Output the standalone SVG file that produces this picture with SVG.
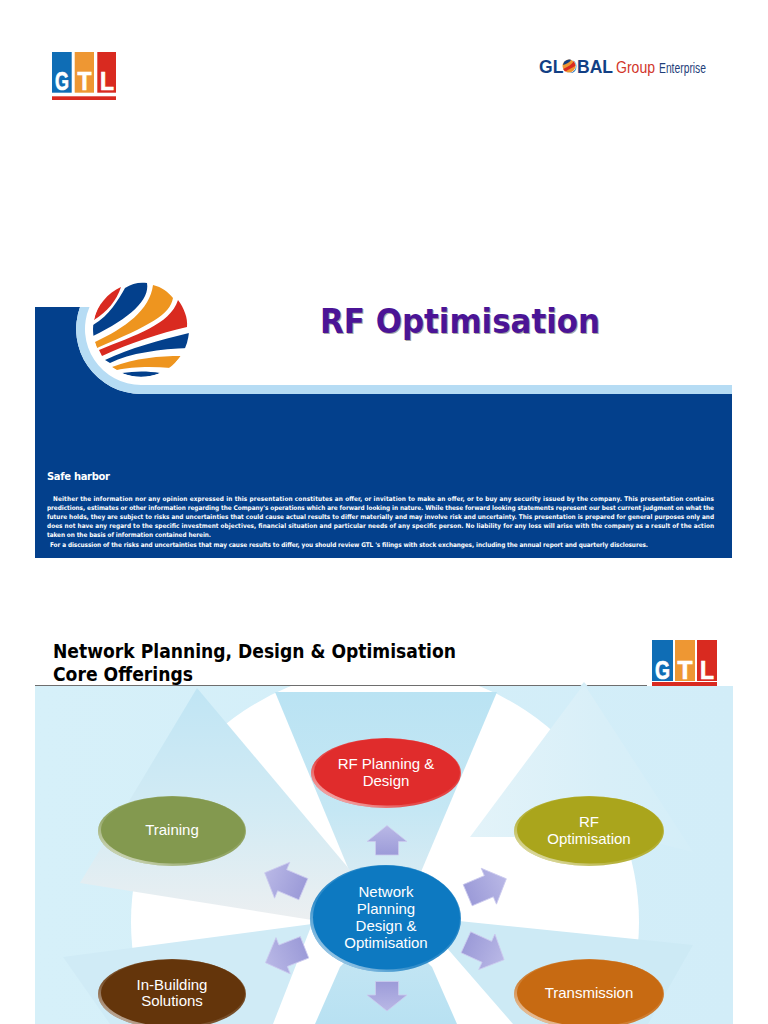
<svg xmlns="http://www.w3.org/2000/svg" width="768" height="1024" viewBox="0 0 768 1024">
<style>
.body{font-family:"DejaVu Sans Condensed","DejaVu Sans",sans-serif;font-weight:700;font-size:6.4px;fill:#fff}
.head{font-family:"DejaVu Sans Condensed","DejaVu Sans",sans-serif;font-weight:700;fill:#000;font-size:19px}
.lab{font-family:"Liberation Sans",Arial,sans-serif;font-size:15px;fill:#fff;text-anchor:middle}
.logo{font-family:"Liberation Sans",Arial,sans-serif;font-weight:700;fill:#fff;stroke:#fff;stroke-width:0.7px}
.rim{fill:url(#rim)}
</style>
<defs>
<clipPath id="panel"><rect x="35" y="686" width="698" height="338"/></clipPath>
<clipPath id="globeClip"><circle cx="141" cy="329" r="48"/></clipPath>
<linearGradient id="wedgeTop" x1="0" y1="0" x2="0" y2="1"><stop offset="0" stop-color="#bae3f3"/><stop offset="0.45" stop-color="#c5e7f4"/><stop offset="1" stop-color="#eef0f2"/></linearGradient>
<linearGradient id="wedgeTL" x1="0" y1="0" x2="0" y2="1"><stop offset="0" stop-color="#c0e5f4"/><stop offset="0.55" stop-color="#d3ebf4"/><stop offset="1" stop-color="#eceff1"/></linearGradient>
<linearGradient id="wedgeTR" x1="0" y1="0" x2="1" y2="0"><stop offset="0" stop-color="#e3f3f9"/><stop offset="0.6" stop-color="#d8eff8"/><stop offset="1" stop-color="#d4eef8"/></linearGradient>
<linearGradient id="wedgeB" x1="0" y1="0" x2="0" y2="1"><stop offset="0" stop-color="#e8f0f3"/><stop offset="0.4" stop-color="#c2e5f3"/><stop offset="1" stop-color="#b8e1f2"/></linearGradient>
<linearGradient id="bg" x1="0" y1="0" x2="1" y2="0"><stop offset="0" stop-color="#d6f0f9"/><stop offset="1" stop-color="#d2edf8"/></linearGradient>
<linearGradient id="arrow" x1="0" y1="0" x2="0" y2="1"><stop offset="0" stop-color="#b9b8e6"/><stop offset="1" stop-color="#9c9bd8"/></linearGradient>
<linearGradient id="rim" x1="0" y1="1" x2="1" y2="0"><stop offset="0" stop-color="#fff" stop-opacity="0.85"/><stop offset="0.35" stop-color="#fff" stop-opacity="0.15"/><stop offset="0.7" stop-color="#fff" stop-opacity="0.1"/><stop offset="1" stop-color="#fff" stop-opacity="0.55"/></linearGradient>
<path id="arrowShape" d="M0,-15 L20,1 H11.500 V14.500 H-11.500 V1 H-20 Z"/>
<path id="arrowLong" d="M0,-21 L19.500,-2 H11.500 V21 H-11.500 V-2 H-19.500 Z"/>
</defs>

<g id="logo-top">
<rect x="52" y="52" width="19.700" height="40.700" fill="#0f6db5"/>
<rect x="74.700" y="52" width="19.300" height="40.700" fill="#ee9733"/>
<rect x="97.300" y="52" width="18.700" height="40.700" fill="#d92a20"/>
<rect x="52" y="96.300" width="64" height="3.700" fill="#d92a20"/>
<text class="logo" x="55" y="90" font-size="26" textLength="14" lengthAdjust="spacingAndGlyphs">G</text>
<text class="logo" x="77.500" y="90" font-size="26" textLength="14" lengthAdjust="spacingAndGlyphs">T</text>
<text class="logo" x="100" y="90" font-size="26" textLength="14" lengthAdjust="spacingAndGlyphs">L</text>
</g>

<g id="logo-global">
<text x="539" y="73" font-family="'Liberation Sans',Arial,sans-serif" font-weight="700" font-size="18" fill="#123f84" textLength="74" lengthAdjust="spacingAndGlyphs">GLOBAL</text>
<circle cx="569" cy="66" r="7" fill="#fff"/>
<circle cx="569" cy="66" r="6.500" fill="#ee9733"/>
<path d="M563,69 C568,67 572,64 574,61 L575.500,66 C571,68 567,71 565,71.500 Z" fill="#d92a20"/>
<path d="M564,62 C566,60 569,59 571,60 C569,63 566,64 563,65 Z" fill="#123f84"/>
<text x="616" y="73" font-family="'Liberation Sans',Arial,sans-serif" font-size="17" fill="#d2352a" textLength="39" lengthAdjust="spacingAndGlyphs">Group</text>
<text x="659" y="73" font-family="'Liberation Sans',Arial,sans-serif" font-size="14" fill="#1f3f7a" textLength="47" lengthAdjust="spacingAndGlyphs">Enterprise</text>
</g>

<g id="banner">
<path d="M35,307 H80 A65,65 0 0 0 141,394 H732 V558 H35 Z" fill="#03408c"/>
<path d="M80,307 A65,65 0 0 0 141,394 H732 V385 H141 A56,56 0 0 1 89.500,307 Z" fill="#b6dcf4"/>
</g>

<g id="globe" clip-path="url(#globeClip)">
<path d="M94,320 C97,305 108,293 121,287 C117,300 107,312 94,320 Z" fill="#d92a20"/>
<path d="M93,336 L93,325 C110,315 118,300 125,288 C132,283 140,282 147,283 C150,300 130,318 93,336 Z" fill="#03408c"/>
<path d="M95,342 C125,328 150,310 153,285 C162,287 168,292 173,298 C170,315 150,325 97,348 Z" fill="#ee951f"/>
<path d="M99,350 C135,335 170,325 178,300 C184,308 188,318 187,327 C160,333 130,343 102,356 Z" fill="#d92a20"/>
<path d="M105,360 C130,348 160,340 189,333 L189,348 C160,349 130,353 110,363 Z" fill="#03408c"/>
<path d="M112,367 C135,358 160,356 181,356 L171,368 C150,366 130,367 117,370 Z" fill="#ee951f"/>
<path d="M122,373 C135,371 148,371 160,373 C150,378 132,378 122,373 Z" fill="#03408c"/>
</g>

<g id="title">
<text x="321" y="334" font-family="'DejaVu Sans Condensed','DejaVu Sans',sans-serif" font-weight="700" font-size="33" fill="#a8a8a8" textLength="280" lengthAdjust="spacingAndGlyphs">RF Optimisation</text>
<text x="320" y="333" font-family="'DejaVu Sans Condensed','DejaVu Sans',sans-serif" font-weight="700" font-size="33" fill="#4b1496" textLength="280" lengthAdjust="spacingAndGlyphs">RF Optimisation</text>
</g>

<g id="safe-harbor">
<text x="47" y="480" font-family="'DejaVu Sans',sans-serif" font-weight="700" font-size="10" fill="#fff" textLength="63">Safe harbor</text>
<text class="body" x="53" y="501" textLength="661" lengthAdjust="spacing">Neither the information nor any opinion expressed in this presentation constitutes an offer, or invitation to make an offer, or to buy any security issued by the company. This presentation contains</text>
<text class="body" x="47" y="510" textLength="667" lengthAdjust="spacing">predictions, estimates or other information regarding the Company's operations which are forward looking in nature. While these forward looking statements represent our best current judgment on what the</text>
<text class="body" x="47" y="519" textLength="667" lengthAdjust="spacing">future holds, they are subject to risks and uncertainties that could cause actual results to differ materially and may involve risk and uncertainty. This presentation is prepared for general purposes only and</text>
<text class="body" x="47" y="528" textLength="667" lengthAdjust="spacing">does not have any regard to the specific investment objectives, financial situation and particular needs of any specific person. No liability for any loss will arise with the company as a result of the action</text>
<text class="body" x="47" y="537" textLength="164" lengthAdjust="spacing">taken on the basis of information contained herein.</text>
<text class="body" x="50" y="547" textLength="598" lengthAdjust="spacing">For a discussion of the risks and uncertainties that may cause results to differ, you should review GTL 's filings with stock exchanges, including the annual report and quarterly disclosures.</text>
</g>

<g id="slide-heading">
<text class="head" x="53" y="658" textLength="403" lengthAdjust="spacingAndGlyphs">Network Planning, Design &amp; Optimisation</text>
<text class="head" x="53" y="681" textLength="140" lengthAdjust="spacingAndGlyphs">Core Offerings</text>
<rect x="35" y="685" width="612" height="1.300" fill="#6e6e6e"/>
</g>

<g id="logo-small">
<rect x="652" y="640" width="21" height="41" fill="#0f6db5"/>
<rect x="675" y="640" width="20" height="41" fill="#ee9733"/>
<rect x="697" y="640" width="20" height="41" fill="#d92a20"/>
<rect x="652" y="682" width="65" height="4" fill="#d92a20"/>
<text class="logo" x="655" y="679" font-size="25" textLength="15" lengthAdjust="spacingAndGlyphs">G</text>
<text class="logo" x="677.500" y="679" font-size="25" textLength="15" lengthAdjust="spacingAndGlyphs">T</text>
<text class="logo" x="700" y="679" font-size="25" textLength="14" lengthAdjust="spacingAndGlyphs">L</text>
</g>

<g id="backdrop" clip-path="url(#panel)">
<rect x="35" y="686" width="698" height="338" fill="url(#bg)"/>
<circle cx="385" cy="922" r="254" fill="#fff"/>
<polygon points="275,692 497,692 385,957" fill="url(#wedgeTop)"/>
<polygon points="197,688 80,883 312,920 350,870" fill="url(#wedgeTL)"/>
<polygon points="584,684 470,837 633,837 693,852" fill="url(#wedgeTR)"/>
<polygon points="63,957 312,924 273,1024 110,1024" fill="#d0ebf6"/>
<polygon points="693,945 420,917 513,1024 648,1024" fill="#cdeaf5"/>
<polygon points="340,967 385,920 432,967 457,1024 315,1024" fill="url(#wedgeB)"/>
</g>
<polygon id="apex" points="584,682 580,686.500 588,686.500" fill="#d6eef7"/>

<g id="connectors" fill="url(#arrow)" stroke="#cbcaee" stroke-width="0.800">
<use href="#arrowShape" transform="translate(387,840.500)"/>
<use href="#arrowShape" transform="translate(387,996) rotate(180)"/>
<use href="#arrowLong" transform="translate(487,887) rotate(67)"/>
<use href="#arrowLong" transform="translate(485,951) rotate(114.500)"/>
<use href="#arrowLong" transform="translate(285,955) rotate(-111.500)"/>
<use href="#arrowLong" transform="translate(284,881) rotate(-67)"/>
</g>

<g id="node-rf-planning">
<ellipse cx="386" cy="773" rx="75" ry="35" fill="#e02c2c"/>
<ellipse class="rim" cx="386" cy="773" rx="75" ry="35"/>
<ellipse cx="387" cy="772" rx="73" ry="33.500" fill="#e02c2c"/>
<text class="lab" x="386" y="769">RF Planning &amp;</text>
<text class="lab" x="386" y="786">Design</text>
</g>
<g id="node-training">
<ellipse cx="172" cy="831" rx="74" ry="35" fill="#83994f"/>
<ellipse class="rim" cx="172" cy="831" rx="74" ry="35"/>
<ellipse cx="173" cy="830" rx="72" ry="33.500" fill="#83994f"/>
<text class="lab" x="172" y="835">Training</text>
</g>
<g id="node-rf-optimisation">
<ellipse cx="589" cy="831" rx="75" ry="35" fill="#aaa51c"/>
<ellipse class="rim" cx="589" cy="831" rx="75" ry="35"/>
<ellipse cx="590" cy="830" rx="73" ry="33.500" fill="#aaa51c"/>
<text class="lab" x="589" y="827">RF</text>
<text class="lab" x="589" y="844">Optimisation</text>
</g>
<g id="node-in-building">
<ellipse cx="172" cy="994" rx="74" ry="35" fill="#64350b"/>
<ellipse class="rim" cx="172" cy="994" rx="74" ry="35"/>
<ellipse cx="173" cy="993" rx="72" ry="33.500" fill="#64350b"/>
<text class="lab" x="172" y="990">In-Building</text>
<text class="lab" x="172" y="1006">Solutions</text>
</g>
<g id="node-transmission">
<ellipse cx="589" cy="994" rx="75" ry="35" fill="#c76a12"/>
<ellipse class="rim" cx="589" cy="994" rx="75" ry="35"/>
<ellipse cx="590" cy="993" rx="73" ry="33.500" fill="#c76a12"/>
<text class="lab" x="589" y="998">Transmission</text>
</g>
<g id="node-center">
<ellipse cx="385.500" cy="918.500" rx="75.500" ry="53.500" fill="#0d79c1"/>
<ellipse class="rim" cx="385.500" cy="918.500" rx="75.500" ry="53.500"/>
<ellipse cx="386.500" cy="917.500" rx="73.500" ry="52" fill="#0d79c1"/>
<text class="lab" x="386" y="897">Network</text>
<text class="lab" x="386" y="914">Planning</text>
<text class="lab" x="386" y="931">Design &amp;</text>
<text class="lab" x="386" y="948">Optimisation</text>
</g>
</svg>
